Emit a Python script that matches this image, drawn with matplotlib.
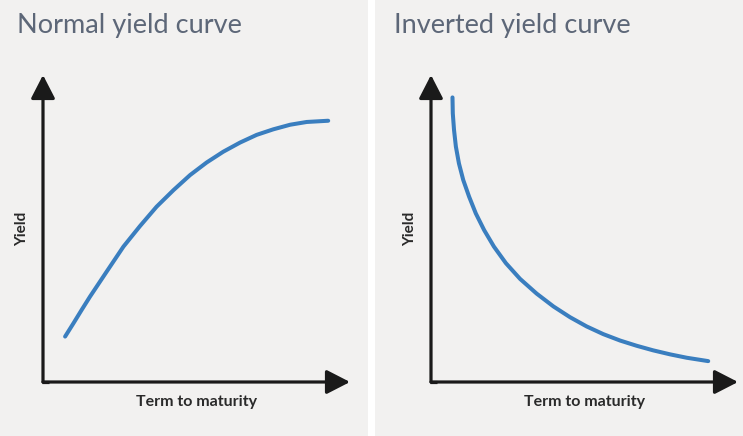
import matplotlib
matplotlib.use("Agg")
import matplotlib.pyplot as plt

# chart data (abstract units: 0..10 on both axes)
titles = ["Normal yield curve", "Inverted yield curve"]
x_label = "Term to maturity"
y_label = "Yield"

normal_term = [0.72, 0.99, 1.26, 1.53, 2.07, 2.62, 3.16, 3.70, 4.25, 4.79,
               5.33, 5.87, 6.42, 6.96, 7.50, 8.05, 8.59, 9.29]
normal_yield = [1.48, 1.91, 2.35, 2.78, 3.59, 4.41, 5.08, 5.71, 6.25, 6.74,
                7.15, 7.50, 7.80, 8.05, 8.23, 8.38, 8.47, 8.51]

inverted_term = [0.70, 0.71, 0.75, 0.81, 0.91, 1.05, 1.24, 1.46, 1.73, 2.05, 2.44, 2.90,
                 3.44, 3.99, 4.53, 5.07, 5.61, 6.16, 6.70, 7.24, 7.79, 8.33, 9.03]
inverted_yield = [9.27, 8.75, 8.21, 7.67, 7.12, 6.58, 6.04, 5.49, 4.95, 4.41, 3.87, 3.36,
                  2.88, 2.46, 2.11, 1.81, 1.56, 1.35, 1.18, 1.03, 0.90, 0.79, 0.68]

W, H = 743, 436
BG = "#f2f1f0"
BLUE = "#3a7ebf"
TITLE_C = "#5d6778"
AXIS_C = "#1a1a1a"

fig = plt.figure(figsize=(W / 100, H / 100), dpi=100)
fig.patch.set_facecolor("white")

px = 30.7  # pixels per data unit
origin_y = 382
# (left px, right px, origin x px, title x px)
panels = [(0, 368, 43, 17), (375, 743, 431, 394)]
series = [(normal_term, normal_yield), (inverted_term, inverted_yield)]

for i, (l, r, ox, tx) in enumerate(panels):
    ax = fig.add_axes([l / W, 0, (r - l) / W, 1])
    ax.set_facecolor(BG)
    ax.set_xlim((l - ox) / px, (r - ox) / px)
    ax.set_ylim((origin_y - H) / px, origin_y / px)
    for s in ax.spines.values():
        s.set_visible(False)
    ax.set_xticks([])
    ax.set_yticks([])

    # axis arrows
    style = "-|>,head_length=0.72,head_width=0.37"
    for end in [(0, 10), (10, 0)]:
        ax.annotate("", xy=end, xytext=(0, 0),
                    arrowprops=dict(arrowstyle=style, color=AXIS_C, lw=2.3,
                                    mutation_scale=20, shrinkA=0, shrinkB=0))
    ax.plot([-0.03, 0.2], [0, 0], color=AXIS_C, lw=2.3, solid_capstyle="butt")

    xs, ys = series[i]
    ax.plot(xs, ys, color=BLUE, lw=2.9, solid_capstyle="round", solid_joinstyle="round")

    fig.text(tx / W, 1 - 25 / H, titles[i], fontsize=19.5, family="Lato",
             color=TITLE_C, va="center", ha="left")

    ax.text(5.0, -20 / px, x_label, fontsize=11.5, family="Lato", fontweight="bold",
            color="#2a2a2a", ha="center", va="center")
    ax.text(-21 / px, 5.0, y_label, fontsize=11, family="Lato", fontweight="bold",
            color="#2a2a2a", ha="center", va="center", rotation=90)

fig.savefig("out.png", dpi=100, facecolor=fig.get_facecolor())
